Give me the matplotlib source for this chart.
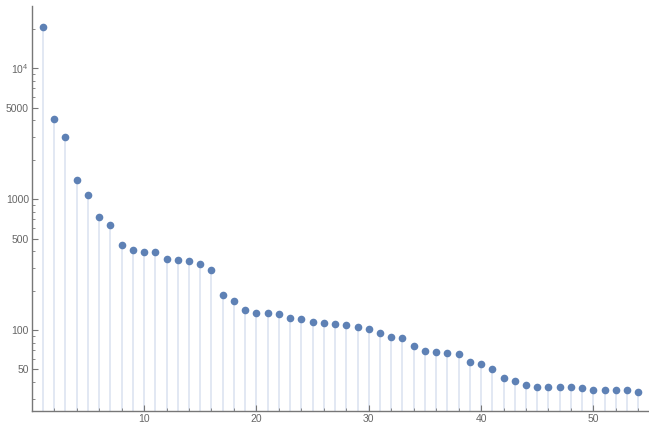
#!/usr/bin/env python3

import numpy as np
import matplotlib.pyplot as plt
from matplotlib.ticker import FixedLocator, FixedFormatter, NullFormatter

# values (log scale)
values = [20500, 4100, 2970, 1400, 1080, 730, 640, 448, 410, 394,
          396, 348, 342, 336, 319, 287, 184, 168, 143, 135.5,
          134, 131.6, 124, 122, 115, 113.7, 111.7, 109.7, 105.4, 102.3,
          94.8, 88.4, 86.9, 75.5, 69.3, 67.5, 66.3, 65.2, 57.3, 54.7,
          50.7, 43.3, 41.0, 38.0, 36.7, 36.7, 36.7, 36.7, 36.1, 34.8,
          34.8, 34.8, 34.8, 33.8]
xs = np.arange(1, len(values) + 1)

ytick_major = [50, 100, 500, 1000, 5000, 10000]
ytick_labels = ['50', '100', '500', '1000', '5000', r'$10^4$']
xtick_major = [10, 20, 30, 40, 50]

point_color = '#5e81b5'
fill_color = '#dfe6f2'
axis_color = '#777777'
label_color = '#666666'

plt.rcParams['font.family'] = ['Liberation Sans', 'DejaVu Sans']
plt.rcParams['mathtext.fontset'] = 'custom'
plt.rcParams['mathtext.rm'] = 'Liberation Sans'

fig = plt.figure(figsize=(6.49, 4.23), dpi=100)
ax = fig.add_axes([0.0489, 0.029, 0.952, 0.957])
ax.set_yscale('log')
ylo, yhi = 24.2, 29900
ax.set_xlim(0, 55)
ax.set_ylim(ylo, yhi)

ax.vlines(xs, ylo, values, color=fill_color, lw=1.3, zorder=1)
ax.plot(xs, values, 'o', color=point_color, ms=5.5, mec='none', zorder=3, clip_on=False)

for s in ['top', 'right']:
    ax.spines[s].set_visible(False)
for s in ['left', 'bottom']:
    ax.spines[s].set_color(axis_color)
    ax.spines[s].set_linewidth(1.0)

# y ticks
minor_y = []
for dec in [10, 100, 1000, 10000]:
    for m in range(2, 10):
        v = m * dec
        if ylo <= v <= yhi and v not in ytick_major:
            minor_y.append(v)
ax.yaxis.set_major_locator(FixedLocator(ytick_major))
ax.yaxis.set_major_formatter(FixedFormatter(ytick_labels))
ax.yaxis.set_minor_locator(FixedLocator(minor_y))
ax.yaxis.set_minor_formatter(NullFormatter())

# x ticks
ax.set_xticks(xtick_major)
ax.set_xticklabels([str(v) for v in xtick_major])
ax.set_xticks([v for v in range(2, 55, 2) if v not in xtick_major], minor=True)

ax.tick_params(which='major', direction='in', length=4.5, width=0.8, color=axis_color,
               labelsize=7.5, labelcolor=label_color, pad=2)
ax.tick_params(which='minor', direction='in', length=2.5, width=0.6, color=axis_color)

fig.savefig('out.png', dpi=100)
